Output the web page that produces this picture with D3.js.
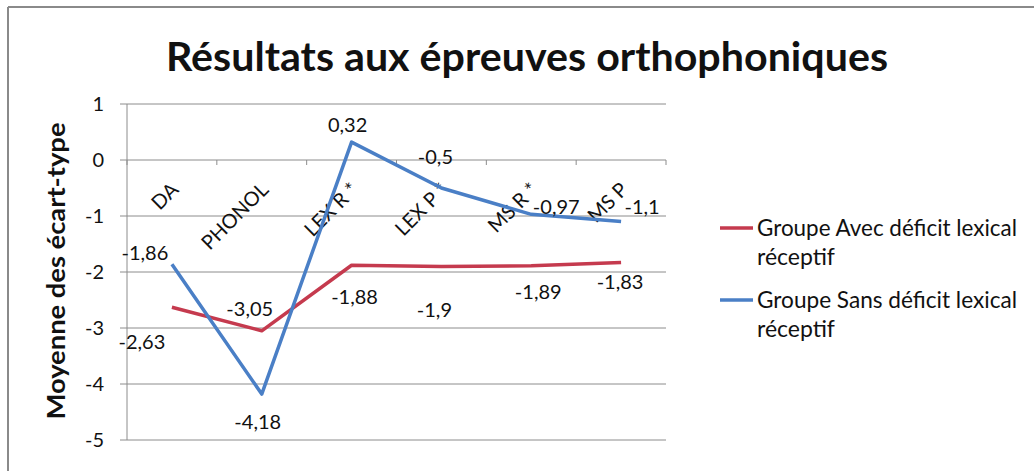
<!DOCTYPE html>
<html><head><meta charset="utf-8">
<script src="https://cdn.jsdelivr.net/npm/d3@7/dist/d3.min.js"></script>
<style>
html,body{margin:0;padding:0;background:#fff;}
text{font-family:Lato,"Open Sans",sans-serif;fill:#111;}
</style></head>
<body>
<svg id="chart" width="1034" height="471"></svg>
<script>
const categories = ["DA", "PHONOL", "LEX R *", "LEX P *", "MS R *", "MS P"];
const avecDeficit = [-2.63, -3.05, -1.88, -1.9, -1.89, -1.83];
const sansDeficit = [-1.86, -4.18, 0.32, -0.5, -0.97, -1.1];
const yTicks = [1, 0, -1, -2, -3, -4, -5];
const seriesNames = [["Groupe Avec déficit lexical", "réceptif"], ["Groupe Sans déficit lexical", "réceptif"]];
const title = "Résultats aux épreuves orthophoniques";
const yTitle = "Moyenne des écart-type";
// label offsets (style/placement only)
const avecLabelOffset = [[-30,35],[-12,-22],[3,32],[-7,44],[7,26],[-1,20]];
const sansLabelOffset = [[-27,-11],[-4,28],[-4,-17],[-6,-31],[25,-7],[21,-15]];

const svg = d3.select("#chart");
const red = "#c53a4e", blue = "#4a7fc6", grid = "#8c8c8c";

// frame
svg.append("line").attr("x1",8).attr("y1",7).attr("x2",1034).attr("y2",7).attr("stroke","#8a8a8a").attr("stroke-width",2);
svg.append("line").attr("x1",8).attr("y1",7).attr("x2",8).attr("y2",471).attr("stroke","#8a8a8a").attr("stroke-width",2);

const x = d3.scaleBand().domain(categories).range([127, 666]).padding(0);
const y = d3.scaleLinear().domain([-5, 1]).range([440, 104]);
const cx = c => x(c) + x.bandwidth()/2;

// title
svg.append("text").attr("x", 527).attr("y", 71).attr("text-anchor","middle")
  .attr("font-size", 40).attr("font-weight", "bold").attr("textLength", 722).attr("lengthAdjust","spacingAndGlyphs")
  .text(title);

// gridlines
svg.append("g").selectAll("line").data(yTicks).join("line")
  .attr("x1", 120).attr("x2", 666).attr("y1", d=>y(d)).attr("y2", d=>y(d))
  .attr("stroke", grid).attr("stroke-width", 1);
// y axis line
svg.append("line").attr("x1",127).attr("x2",127).attr("y1",y(1)).attr("y2",y(-5)).attr("stroke",grid);
// y tick labels
svg.append("g").selectAll("text").data(yTicks).join("text")
  .attr("x", 104).attr("y", d=>y(d)).attr("dy","0.35em").attr("text-anchor","end")
  .attr("font-size", 20).text(d=>String(d));
// y title
svg.append("text").attr("transform","translate(65,271) rotate(-90)").attr("text-anchor","middle")
  .attr("font-size", 25).attr("font-weight","bold").attr("textLength", 297).attr("lengthAdjust","spacingAndGlyphs")
  .text(yTitle);

// x axis ticks on zero line
const bounds = categories.map(c => x(c)).concat([x.range()[1]]);
svg.append("g").selectAll("line").data(bounds).join("line")
  .attr("x1", d=>d).attr("x2", d=>d).attr("y1", y(0)).attr("y2", y(0)+5).attr("stroke", grid);

// category labels
svg.append("g").selectAll("text").data(categories).join("text")
  .attr("transform", c => `translate(${cx(c)+3},${y(0)+26}) rotate(-45)`)
  .attr("text-anchor","end").attr("dy","0.35em").attr("font-size", 20).text(c=>c);

// lines
const line = d3.line().x((d,i)=>cx(categories[i])).y(d=>y(d));
svg.append("path").datum(avecDeficit).attr("d", line).attr("fill","none").attr("stroke", red).attr("stroke-width", 3.5).attr("stroke-linejoin","round");
svg.append("path").datum(sansDeficit).attr("d", line).attr("fill","none").attr("stroke", blue).attr("stroke-width", 3.5).attr("stroke-linejoin","round");

const fmt = v => String(v).replace(".", ",");
function labels(vals, offs){
  svg.append("g").selectAll("text").data(vals).join("text")
    .attr("x", (d,i)=>cx(categories[i]) + offs[i][0])
    .attr("y", (d,i)=>y(d) + offs[i][1])
    .attr("dy","0.35em").attr("text-anchor","middle").attr("font-size", 20)
    .text(fmt);
}
labels(avecDeficit, avecLabelOffset);
labels(sansDeficit, sansLabelOffset);

// legend
const lg = svg.append("g");
[[red, 228], [blue, 300]].forEach(([col, ly], i) => {
  lg.append("line").attr("x1",720).attr("x2",753).attr("y1",ly).attr("y2",ly).attr("stroke",col).attr("stroke-width",3.5);
  lg.append("text").attr("x",757).attr("y",ly).attr("dy","0.35em").attr("font-size",23)
    .attr("textLength", 260).attr("lengthAdjust","spacingAndGlyphs").text(seriesNames[i][0]);
  lg.append("text").attr("x",757).attr("y",ly+29).attr("dy","0.35em").attr("font-size",23).text(seriesNames[i][1]);
});
</script>
</body></html>
